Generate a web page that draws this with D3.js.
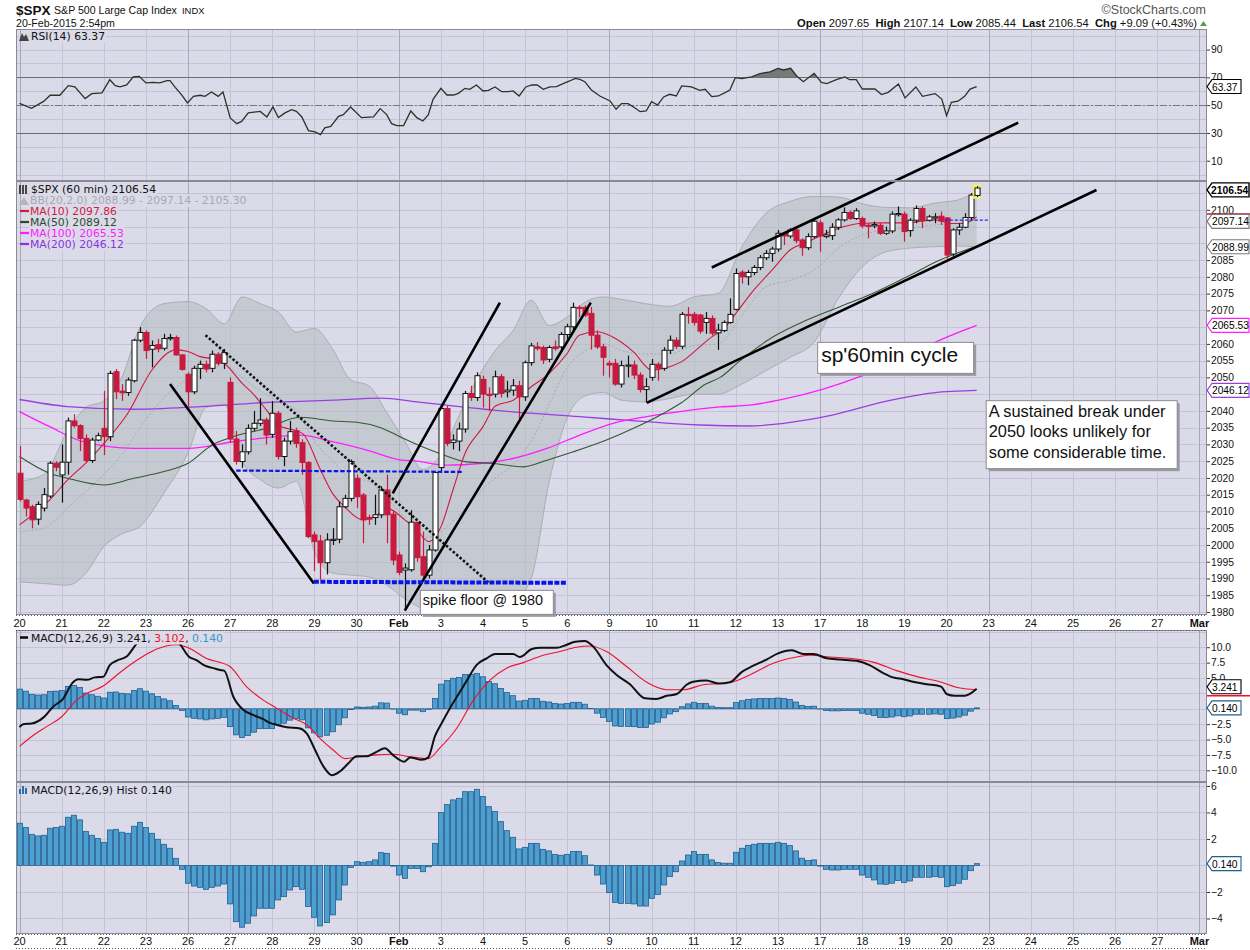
<!DOCTYPE html>
<html>
<head>
<meta charset="utf-8">
<script src="https://cdn.jsdelivr.net/npm/d3@7.9.0/dist/d3.min.js"></script>
<style>
  body { margin: 0; background: #fff; }
  svg { display: block; font-family: "Liberation Sans", Arial, sans-serif; }
  .lg { font-family: "DejaVu Sans", Verdana, sans-serif; font-size: 10.8px; white-space: pre; }
  .tick text { font-family: "Liberation Sans", Arial, sans-serif; font-size: 10.3px; fill: #111; }
</style>
</head>
<body>
<svg id="chart" width="1250" height="950"></svg>
<script>
// ---- data ----
const dayLabels = ['20','21','22','23','26','27','28','29','30','Feb','3','4','5','6','9','10','11','12','13','17','18','19','20','23','24','25','26','27','Mar'];
const weekStarts = [0, 4, 9, 14, 19, 23, 28];

// hourly bars, 7 per trading day, Jan 20 .. Feb 20 2:54pm
const opens = [
  2021.4,2013.4,2011.4,2007.7,2011,2014.6,2024.4,2020.9,2024.7,2037,
  2035.6,2031.8,2025.2,2031.3,2034.8,2032.3,2051.7,2045.9,2045.5,2049,
  2061.1,2063.4,2058.4,2059.8,2058.7,2061.6,2061.9,2056.7,2050.9,2045.7,
  2052.7,2053.9,2052.7,2056.9,2054.2,2048.5,2031.6,2024.9,2027.8,2034.8,
  2036.3,2037.3,2033,2039.3,2026.4,2031,2034.1,2030.5,2024.6,2003,
  2001.2,1994.7,2001.5,2001.7,2011.4,2013.9,2019.9,2014.9,2008.2,2008.2,
  2009,2016.4,2009.2,1997,1992.5,1992.6,2006.7,1996.5,1991,1998.5,
  2023.1,2040.7,2030.6,2031,2034.6,2045.2,2044,2049.4,2045,2045,
  2050.2,2045.7,2046.2,2047.5,2044.2,2054.4,2059.1,2058.9,2055.4,2059.1,
  2059.1,2062.8,2065.1,2070.9,2070.9,2069.1,2062.6,2059.1,2054.2,2054.2,
  2048,2053.5,2053.7,2050.7,2046.4,2050,2053.9,2052.7,2058.1,2061.1,
  2059.3,2068.8,2068.8,2068.6,2066.4,2067.6,2063.3,2064,2066.4,2070.3,
  2081.4,2080,2081.3,2082.8,2085.7,2087,2088.3,2093,2092.2,2094,
  2091,2088.7,2092,2096.1,2092,2092.3,2094.8,2097,2099.2,2097.4,
  2097.4,2095.4,2095.2,2095.4,2093,2093.7,2098.7,2098.7,2093.8,2096.9,
  2100.4,2096.9,2097.7,2098.1,2097.6,2086.8,2094,2094.8,2097.7,2104.3
];
const highs = [
  2029.5,2013.8,2012,2013,2017,2025,2025,2030,2038,2039,
  2036,2033,2032,2033.5,2046,2052,2052.5,2048,2050,2061.5,
  2065,2064,2061,2061.5,2063,2063,2062.5,2057,2051.5,2053.5,
  2055,2055,2058,2057.5,2058.5,2050,2034,2030,2036,2040,
  2043.8,2038,2042.9,2040,2032,2037,2035,2031.5,2025,2004,
  2003,2003.5,2005,2013,2015,2025.5,2021,2015.5,2009,2015,
  2017.5,2021,2010,1998,1994.5,2010.4,2007,2004,2000,2022,
  2041.5,2041.5,2033,2036.5,2046,2047.5,2051.5,2050.5,2047,2052,
  2051,2049,2049.5,2049,2055,2060.3,2060.5,2059.5,2059.5,2061,
  2063.5,2066,2072.3,2071.5,2071.5,2071,2064,2060,2055,2055.5,
  2055,2056.5,2055,2051.5,2049.8,2055.5,2054.5,2059,2062.5,2062,
  2069.5,2071,2069.5,2069,2069.5,2068.5,2066,2067,2073.6,2082.5,
  2082,2082,2083.5,2086.5,2088,2089,2094,2093.5,2094.5,2094.5,
  2091.5,2093,2097.5,2097,2094,2096,2097.5,2100.7,2099.8,2100.5,
  2098,2096,2096.5,2096,2095,2099.5,2101,2099.5,2097.5,2101.3,
  2101,2098.5,2099,2099.5,2097.8,2094.5,2096,2099,2105,2107.1
];
const lows = [
  2013,2008.5,2005,2006,2010,2014,2022,2012.6,2021,2035,
  2028,2024.5,2024.5,2031,2026.8,2031,2043.5,2043,2044.5,2048.5,
  2060.5,2055.5,2053,2057.5,2058,2061,2056.5,2052,2041.3,2045,
  2049.5,2051.5,2051.5,2053.5,2052.5,2030.5,2024,2023,2027,2034,
  2035.5,2030,2032,2025.5,2023.5,2030,2029,2021,2002,1992.2,
  1989.6,1991.2,2000,2000.5,2011,2013,2011,2000.5,2006,2006,
  2008,2000.5,1994,1991,1980.6,1992,1995,1990,1990,1998,
  2022,2029.5,2028.5,2028,2033.5,2043,2043,2041,2040,2044,
  2044,2044,2044.5,2037.5,2043,2053.5,2058,2054,2054.5,2058,
  2058,2061.5,2064,2068,2068,2058.3,2058.5,2050.5,2050,2047.5,
  2047,2050,2049.5,2045.5,2042.5,2049,2049,2052,2057,2058.5,
  2058.5,2066,2065.5,2063,2063,2062.5,2058.2,2063.5,2066,2070,
  2078,2077.5,2080.5,2082,2085,2084.5,2087.5,2089.5,2091.5,2090,
  2086.3,2088,2091.5,2087.5,2091.5,2091,2094,2096.5,2097,2097,
  2094.5,2091.5,2094.5,2092.5,2092.5,2093,2098,2090.5,2092,2096,
  2094.5,2096.5,2096,2095.5,2085.4,2085.5,2092.5,2094.5,2097,2103.8
];
const closes = [
  2013.6,2011.0,2007.5,2012.1,2015,2024.4,2023.2,2024.7,2037,2035.6,
  2031.8,2025.2,2031.3,2032.6,2032.3,2051.2,2045.7,2045.4,2049.2,2061.1,
  2063.4,2058,2059.5,2058.5,2061.6,2061.9,2056.7,2052.4,2045.7,2052.7,
  2053.9,2052.5,2056.9,2054.2,2057.4,2031.6,2024.9,2027.8,2034.8,2036.3,
  2037.3,2032.8,2039.3,2026.4,2031,2033.8,2030.3,2024.6,2002.5,2001,
  1994.7,2001.5,2001.7,2011.4,2013.9,2024.9,2014.4,2007.5,2007.7,2009,
  2016.4,2009,1995.5,1991.8,1993.1,2006.8,1996.2,1991.0,1998.5,2021.6,
  2040.7,2030.3,2031.3,2034.6,2045.2,2044,2050.5,2045,2044.6,2050.2,
  2045.2,2046.2,2047.5,2044.2,2054.4,2059.4,2058.6,2055.2,2058.9,2058.6,
  2062.8,2065.1,2070.9,2070.6,2068.6,2062.6,2059.1,2056,2053.7,2048,
  2053.5,2053.7,2050.7,2046.4,2047.2,2053.9,2052.7,2058.1,2061.1,2059.3,
  2068.8,2068.5,2066.4,2063.8,2067.6,2063.2,2064.1,2066.4,2068.8,2081,
  2080,2081.3,2082.8,2085.7,2087,2088.3,2093,2092.2,2094,2090.8,
  2088.7,2092,2096.6,2092.2,2092.5,2094.8,2097,2099.2,2097.4,2099.7,
  2095.2,2095.2,2095.6,2093,2093.7,2098.7,2098.9,2093.5,2096.9,2100.4,
  2096.7,2097.9,2097.9,2096.7,2086.5,2094,2094.8,2097.7,2104.4,2106.5
];

// Bollinger band (20,2) read at these bars
const bbIdx = [0,4,8,11,14,17,20,24,28,31,34,37,40,43,46,49,52,55,58,61,64,67,70,73,76,79,82,85,88,91,94,97,100,104,108,112,116,120,124,128,132,136,140,144,148,152,156,159];
const bbUpper = [2019,2021,2034,2041,2043,2050,2065,2072,2072.6,2070.5,2066,2074,2072,2069.5,2063.5,2064.6,2058.5,2049.3,2047.5,2039.5,2031,2022.5,2027,2038.5,2049.5,2058,2064,2073,2065.5,2068,2072.5,2074,2073.3,2072,2071.2,2074,2075,2089,2099,2102.5,2104,2103.8,2101.8,2100.7,2100.6,2102,2103,2105.3];
const bbLower = [1989,1988.5,1988,1991.5,1999.5,2003.3,2005.5,2015.5,2027.5,2041,2042,2025,2019.5,2017,2019,1998,1991.6,1991,1990.5,1988,1984,1981,1980,1980,1980.5,1981,1983,1990,2019,2038,2044.5,2045.5,2043.2,2042.7,2043.7,2045,2045,2048,2052,2056,2060.5,2073.5,2083,2087.5,2088.6,2089,2089.2,2089];
const bbMid = [2004,2005,2011,2016,2021,2027,2035,2044,2050,2056,2054,2050,2046,2043,2040,2031,2025,2020,2019,2014,2008,2002,2004,2009,2015,2020,2024,2031,2042,2053,2058,2060,2058,2057,2057,2059.5,2060,2068.5,2077,2079,2082,2088.5,2092.5,2094,2094.6,2095.5,2096,2097.1];

// moving averages as [bar, value]
const ma10 = [[0,2006],[5,2013.4],[8,2019.4],[11,2024.4],[15,2032.3],[18,2039.3],[22,2052.2],[26,2058.2],[28,2057.7],[30,2056.2],[33,2055.2],[34,2054.2],[37,2048.2],[39,2044.7],[41,2040.3],[43,2035.8],[47,2033.3],[50,2022.4],[52,2015.4],[54,2011.4],[57,2007.5],[59,2008.5],[61,2011],[64,2007.5],[66,2004.4],[68,2001],[70,2005.4],[72,2016.4],[74,2027.3],[77,2035.3],[79,2041.4],[82,2043.2],[85,2047.2],[88,2051.2],[91,2057.2],[93,2062.6],[96,2063.6],[99,2061.6],[102,2057.6],[105,2052.2],[108,2053.2],[110,2054.7],[113,2059.1],[115,2062.1],[117,2064.5],[119,2069.1],[122,2076.1],[125,2082],[128,2088],[131,2090.5],[134,2093],[137,2095],[140,2096],[143,2096.1],[147,2096.1],[152,2097],[155,2095.9],[157,2096],[159,2097.9]];
const ma50 = [[0,2026.4],[5,2021.4],[8,2019.9],[14,2017.9],[19,2019.9],[24,2021.9],[28,2024.4],[32,2029.8],[35.5,2032.3],[41,2034.8],[46.6,2038.1],[52,2037],[56,2036.6],[60,2035],[63.2,2032.3],[66.5,2029.6],[69.8,2027.3],[74.3,2024.8],[78.7,2024.3],[83.7,2023.3],[87.6,2025.3],[92,2027.8],[97.5,2031.3],[102,2034.8],[107,2039.3],[110,2042.5],[114,2048],[116.4,2050],[119.7,2055],[125.2,2062.1],[130.8,2067.1],[136.3,2071.1],[141.8,2075.1],[147.4,2080],[152.9,2085],[159,2089.1]];
const ma100 = [[0,2039.8],[5,2035.3],[10.6,2030.8],[19,2028.8],[28,2028.8],[35.5,2030.8],[42.7,2032.3],[46.6,2032.8],[52,2030.8],[57.7,2028.3],[63.2,2025.4],[66,2025],[71,2023.8],[76.5,2024.3],[82,2025.8],[87.6,2028.8],[93.1,2032.8],[98.6,2036.3],[104.2,2038.3],[109.7,2039.8],[116.4,2041.2],[121.3,2041.7],[126.9,2043.5],[133.5,2046.5],[139.6,2050.2],[147.4,2056.2],[152.9,2061.1],[159,2065.5]];
const ma200 = [[0,2043.4],[8,2041.3],[19,2040.5],[30,2041.3],[41,2042.5],[52,2043.2],[60,2043.8],[66,2042.7],[71,2041.7],[82,2039.7],[93,2038.3],[104,2036.8],[113,2035.8],[121.3,2035.5],[126.9,2036.3],[135.2,2038.8],[143.5,2042.7],[151.8,2045.4],[159,2046.1]];

// RSI(14) as [bar, value]
const rsi = [[0,51.3],[2,47.7],[4,52.7],[5.1,57.1],[6.7,57.1],[8.1,64],[9.2,63.1],[10.9,54.7],[12,58.3],[13.7,58.8],[15,68.3],[15.9,64],[16.7,63.1],[17.8,64.5],[18.9,70.3],[19.9,70.7],[21,66],[22.2,66.4],[23.3,66],[24.5,67.6],[25,67.6],[25.8,63.1],[26.9,57.6],[27.9,51.6],[28.9,56.3],[30,57.1],[30.8,56.3],[31.9,59.5],[33,56.3],[33.8,59.5],[35,40.8],[36.1,36.7],[36.9,38.3],[38,44.4],[40,45.5],[41.1,41.5],[42.1,48.7],[43,41],[44.1,44.4],[45.2,46.8],[46,45.5],[46.9,41.5],[48,31.7],[49.1,30.7],[50,28.8],[50.7,33.6],[51.7,34.7],[53,41.9],[53.8,43.2],[55,48.7],[56.8,41],[58.8,41.5],[59.9,47.5],[61,43.2],[61.8,36.7],[62.7,35.3],[63.8,35.3],[65,45.8],[66,41],[67,38.6],[67.9,42.9],[68.7,54.2],[70,62.1],[71,57.3],[72.1,57.3],[72.9,58.5],[74,62.1],[74.8,61.4],[75.9,64.5],[77,60.2],[77.9,60.7],[79,63.1],[80.1,59.7],[81.2,59.7],[82,60.2],[83,56.6],[84.1,63.1],[85.1,64.5],[86,64.5],[87,61.4],[88.1,63.1],[89.2,63.3],[90.3,65.5],[91.4,67.4],[92.3,69.3],[93.1,68.6],[93.9,66.9],[95,60.9],[96.4,56.6],[98.1,53],[99.1,47],[100,51.1],[101.1,51.1],[102,48.7],[103.1,45.3],[104.1,45.8],[105,52.5],[106,50.1],[107,55.9],[108,57.8],[109.1,56.6],[110,63.8],[111.6,63.1],[113,60.7],[113.9,61.4],[115,56.1],[116.1,56.6],[117.2,59],[118,60.9],[118.9,69.8],[120,69.1],[121.6,70.3],[123,72.7],[124.7,73.9],[126,76.5],[126.9,75.3],[128.1,76.5],[129.1,71],[130.2,66.9],[132,72.9],[133.2,66.4],[134.1,65.5],[135.7,68.3],[137.1,70.3],[137.9,68.3],[139,68.3],[140,61.6],[142.1,61.6],[143.2,57.6],[144.3,59.2],[146,65.2],[147.1,55.2],[148.9,63.1],[150,56.3],[152.1,58.3],[153.2,54.4],[154,42.4],[154.8,52],[155.9,52.8],[157,56.3],[157.9,61.6],[159,63.37]];

// MACD(12,26,9) line and signal as [bar, value]
const macd = [[0,-3.0],[0.6,-2.5],[2,-2.4],[4,-1.4],[5.6,0.35],[7.3,1.7],[8.7,4.1],[9.8,4.8],[11.2,4.7],[12.5,5.1],[13.9,5.2],[15,7.1],[16.1,7.8],[17.8,8.5],[19.7,10.8],[21.1,11.5],[23.3,11.8],[25,11.5],[26.4,10.8],[28.1,8.5],[29.4,7.9],[30.8,7],[32.2,6.6],[33.3,6.3],[34,6.2],[35.5,2],[37.2,-0.2],[38.8,-1],[40.5,-1.7],[41.6,-2.3],[42.7,-2.6],[44.4,-3],[46.6,-3.2],[47.7,-4],[49.1,-6.7],[50.5,-9.4],[51.9,-10.8],[53.2,-10.2],[54.6,-8.9],[56,-7.7],[57.7,-7.7],[59.3,-7],[60.7,-6.4],[62,-7.5],[63.9,-8.6],[64.9,-7.9],[66.8,-8.3],[67.9,-7.9],[69,-4.5],[70.1,-2.4],[71.5,0.1],[73.2,2.8],[74.5,4.9],[75.9,7.1],[77.6,8.2],[79,8.9],[82,8.9],[83.1,8.4],[85.1,9.7],[86.5,9.9],[89.2,9.9],[90.9,10.4],[92.3,10.9],[93.9,11],[95.3,10.1],[97.5,7.1],[99.2,5.5],[101.4,4],[103.9,1.7],[105.8,1.6],[107.5,2.1],[109.2,2.4],[110.8,3.9],[111.9,4.4],[114.1,4.6],[116.1,4.1],[118,4.3],[120,6.0],[121.9,7],[124.1,8.0],[126,9],[128.3,9.5],[130.2,8.9],[131.9,8.9],[134.1,8.2],[136.3,8.0],[139,7.8],[141.2,7.1],[143.5,5.8],[145.1,5.1],[146.8,4.8],[148.4,4.4],[150.7,4],[153.1,3.6],[154,2.4],[155.4,2.1],[157,2.1],[159,3.24]];
const signal = [[0,-6.1],[2.3,-4.3],[4.5,-2.9],[7,-1.3],[9.5,1.4],[11.2,2.5],[13.9,3.7],[16.7,5.9],[20,8.2],[22.8,9.7],[26.1,10.4],[28.3,9.8],[31,8.2],[34.9,6.9],[37.7,3.6],[40.5,1.4],[42.7,0.1],[45.5,-1.55],[47.7,-2.6],[49.9,-4.8],[52.1,-6.7],[54.1,-8.1],[56.5,-7.8],[59.3,-7.5],[62,-7.4],[64.9,-7.8],[67.9,-8.1],[69.8,-6.4],[72.6,-3.2],[75.4,1.4],[78.2,4.7],[80.9,6.6],[83.7,7.5],[87,8.7],[89.8,9.3],[92.5,10],[94.8,10.2],[97.5,9.3],[100.8,6.9],[104.2,4.3],[107.5,3.1],[110.3,3.1],[113.6,3.9],[116.4,4.1],[118.6,4.4],[121.3,5.5],[125.2,7.4],[128,8.2],[131.3,8.7],[134.6,8.4],[139.6,8.0],[142.1,7.5],[145.7,6.2],[149.6,5.1],[152.9,4.4],[155.6,3.5],[159,3.1]];

// MACD histogram, one per bar
const hist = [
  3.19,2.86,2.35,2.23,2.28,2.81,2.86,
  2.96,3.64,3.79,3.44,2.56,2.28,2.03,
  1.75,2.68,2.73,2.51,2.43,2.96,3.26,
  2.86,2.43,1.98,1.60,1.30,0.54,-0.29,
  -1.34,-1.55,-1.65,-1.80,-1.65,-1.55,-1.40,
  -2.90,-4.24,-4.66,-4.36,-3.81,-3.23,-3.23,
  -3.23,-2.60,-2.35,-1.85,-1.60,-1.80,-3.10,
  -3.91,-4.56,-4.31,-3.73,-2.60,-1.47,-0.14,
  0.29,0.24,0.29,0.42,0.97,0.92,-0.05,
  -0.72,-0.97,-0.22,-0.22,-0.47,-0.10,1.67,
  4.0,4.6,4.95,5.07,5.57,5.57,5.75,
  5.2,4.44,4.07,3.31,2.63,2.13,1.25,
  1.37,1.67,1.67,1.22,1.10,0.84,0.77,
  0.84,1.05,1.05,0.74,0.04,-0.72,-1.40,
  -2.05,-2.80,-2.86,-2.86,-2.90,-3.06,-3.06,
  -2.48,-2.18,-1.47,-0.84,-0.47,0.34,0.79,
  1.05,0.84,0.84,0.42,0.22,0.17,0.17,
  1.0,1.3,1.52,1.6,1.67,1.67,1.67,
  1.75,1.67,1.5,1.1,0.55,0.37,0.42,
  -0.04,-0.29,-0.34,-0.34,-0.29,-0.29,-0.29,
  -0.72,-0.89,-1.09,-1.40,-1.42,-1.34,-1.14,
  -1.29,-1.17,-0.89,-0.89,-0.89,-0.84,-0.89,
  -1.60,-1.52,-1.34,-1.04,-0.39,0.14
];

// axis tick values (labels hidden under value tags are left out)
const rsiTicks = [10, 30, 50, 70, 90];
const priceTicks = [1980,1985,1990,1995,2000,2005,2010,2015,2020,2025,2030,2035,2040,2050,2055,2060,2070,2075,2080,2085,2100];
const macdTicks = [-10, -7.5, -5, -2.5, 5, 7.5, 10];
const histTicks = [-4, -2, 2, 4, 6];

// hand-drawn annotations, [bar, price]
const solidLines = [
  [[25.0, 2048.0], [48.9, 1988.5]],
  [[62.0, 2015.4], [79.8, 2072.3]],
  [[64.0, 1980.4], [94.9, 2072.3]],
  [[115.0, 2082.8], [165.9, 2126.0]],
  [[104.2, 2042.4], [178.9, 2105.9]]
];
const dottedLine = [[30.9, 2062.6], [77.9, 1988.8]];
const blueDash = [[36.0, 2022.2], [73.5, 2021.8]];
const blueFloor = [[48.9, 1989.0], [90.9, 1988.7]];
const blueShort = [[153.7, 2096.9], [160.9, 2096.9]];

// ---- layout ----
const plotL = 16, plotR = 1207;
const rsiTop = 29, priceTop = 181, priceBot = 615, macdTop = 630, histTop = 782, histBot = 934;
const bg = '#dadae8', gridC = '#c4c4d6', gridDark = '#a9a9bb', frame = '#8a8a96';

const x = d3.scaleLinear().domain([0, 196]).range([19.5, 19.5 + 196 * 6.02]);
const yRsi = d3.scaleLinear().domain([-4.6, 104.8]).range([priceTop, rsiTop]);
const yPrice = d3.scaleLinear().domain([1979.1, 2108.6]).range([priceBot, priceTop]);
const yMacd = d3.scaleLinear().domain([-11.9, 12.8]).range([histTop, macdTop]);
const yHist = d3.scaleLinear().domain([-5.17, 6.3]).range([histBot, histTop]);

const svg = d3.select('#chart');
const defs = svg.append('defs');
function clip(id, top, bot) {
  defs.append('clipPath').attr('id', id).append('rect')
    .attr('x', plotL).attr('y', top).attr('width', plotR - plotL).attr('height', bot - top);
  return `url(#${id})`;
}

const panels = [
  { top: rsiTop, bot: priceTop, y: yRsi, grid: d3.range(0, 101, 10) },
  { top: priceTop, bot: priceBot, y: yPrice, grid: d3.range(1980, 2106, 5) },
  { top: macdTop, bot: histTop, y: yMacd, grid: d3.range(-10, 12.6, 2.5) },
  { top: histTop, bot: histBot, y: yHist, grid: d3.range(-4, 6.1, 2) }
];

// backgrounds and gridlines
panels.forEach(p => {
  const g = svg.append('g');
  g.append('rect').attr('x', plotL).attr('y', p.top).attr('width', plotR - plotL)
    .attr('height', p.bot - p.top).attr('fill', bg);
  g.selectAll('.h').data(p.grid).join('line')
    .attr('x1', plotL).attr('x2', plotR)
    .attr('y1', d => Math.round(p.y(d)) + 0.5).attr('y2', d => Math.round(p.y(d)) + 0.5)
    .attr('stroke', gridC);
  g.selectAll('.v').data(d3.range(dayLabels.length)).join('line')
    .attr('x1', d => Math.round(x(d * 7)) + 0.5).attr('x2', d => Math.round(x(d * 7)) + 0.5)
    .attr('y1', p.top).attr('y2', p.bot)
    .attr('stroke', d => weekStarts.includes(d) ? gridDark : gridC);
});

// RSI reference lines
svg.append('g').selectAll('line').data([70, 30]).join('line')
  .attr('x1', plotL).attr('x2', plotR)
  .attr('y1', d => Math.round(yRsi(d)) + 0.5).attr('y2', d => Math.round(yRsi(d)) + 0.5)
  .attr('stroke', '#6c6c70').attr('stroke-width', 1.2);
svg.append('line').attr('x1', plotL).attr('x2', plotR)
  .attr('y1', Math.round(yRsi(50)) + 0.5).attr('y2', Math.round(yRsi(50)) + 0.5)
  .attr('stroke', '#77777c').attr('stroke-dasharray', '7,2,2,2');

// ---- RSI ----
const rsiLine = d3.line().x(d => x(d[0])).y(d => yRsi(d[1]));
const obClip = clip('ob', rsiTop, yRsi(70));
const osClip = clip('os', yRsi(30), priceTop);
svg.append('path').datum(rsi).attr('clip-path', obClip)
  .attr('d', d3.area().x(d => x(d[0])).y0(yRsi(70)).y1(d => yRsi(d[1]))).attr('fill', '#77797a');
svg.append('path').datum(rsi).attr('clip-path', osClip)
  .attr('d', d3.area().x(d => x(d[0])).y0(yRsi(30)).y1(d => yRsi(d[1]))).attr('fill', '#77797a');
svg.append('path').datum(rsi).attr('clip-path', clip('rsiC', rsiTop, priceTop))
  .attr('d', rsiLine).attr('fill', 'none').attr('stroke', '#263626').attr('stroke-width', 1.3);

// ---- price panel ----
const priceClip = clip('priceC', priceTop, priceBot);
const pg = svg.append('g').attr('clip-path', priceClip);
const bbRows = bbIdx.map((b, k) => ({ b, u: bbUpper[k], l: bbLower[k], m: bbMid[k] }));
pg.append('path').datum(bbRows)
  .attr('d', d3.area().curve(d3.curveMonotoneX).x(d => x(d.b)).y0(d => yPrice(d.l)).y1(d => yPrice(d.u)))
  .attr('fill', '#b5bdbf').attr('fill-opacity', 0.55);
['u', 'l'].forEach(k => pg.append('path').datum(bbRows)
  .attr('d', d3.line().curve(d3.curveMonotoneX).x(d => x(d.b)).y(d => yPrice(d[k])))
  .attr('fill', 'none').attr('stroke', '#a9aeb2').attr('stroke-width', 1));
pg.append('path').datum(bbRows)
  .attr('d', d3.line().curve(d3.curveMonotoneX).x(d => x(d.b)).y(d => yPrice(d.m)))
  .attr('fill', 'none').attr('stroke', '#a8a8b0').attr('stroke-dasharray', '2,2');

const maLine = d3.line().curve(d3.curveMonotoneX).x(d => x(d[0])).y(d => yPrice(d[1]));
[[ma200, '#9b3ee0', 1.3], [ma100, '#ff1cff', 1.3], [ma50, '#2f5a2f', 1.1], [ma10, '#d01a40', 1.1]]
  .forEach(([data, c, w]) => pg.append('path').datum(data).attr('d', maLine)
    .attr('fill', 'none').attr('stroke', c).attr('stroke-width', w));

// candles
const bars = closes.map((c, i) => ({ i, o: opens[i], h: highs[i], l: lows[i], c }));
const up = d => d.c >= d.o;
const cg = pg.append('g');
cg.selectAll('line').data(bars).join('line')
  .attr('x1', d => Math.round(x(d.i)) + 0.5).attr('x2', d => Math.round(x(d.i)) + 0.5)
  .attr('y1', d => yPrice(d.h)).attr('y2', d => yPrice(d.l))
  .attr('stroke', d => up(d) ? '#111' : '#c8193f').attr('stroke-width', 1.2);
cg.selectAll('rect').data(bars).join('rect')
  .attr('x', d => Math.round(x(d.i)) - 2).attr('width', 5)
  .attr('y', d => yPrice(Math.max(d.o, d.c)))
  .attr('height', d => Math.max(1.2, Math.abs(yPrice(d.o) - yPrice(d.c))))
  .attr('fill', d => up(d) ? '#fff' : '#c8193f')
  .attr('stroke', d => up(d) ? '#111' : '#c8193f').attr('stroke-width', 1);

// yellow highlight on the last candle
const last = bars[bars.length - 1];
svg.append('rect').attr('x', x(last.i) - 4).attr('y', yPrice(last.h) - 2)
  .attr('width', 8).attr('height', yPrice(last.l) - yPrice(last.h) + 4)
  .attr('fill', '#f5f060').attr('fill-opacity', 0.85);
svg.append('line').attr('x1', Math.round(x(last.i)) + 0.5).attr('x2', Math.round(x(last.i)) + 0.5)
  .attr('y1', yPrice(last.h)).attr('y2', yPrice(last.l)).attr('stroke', '#111');
svg.append('rect').attr('x', Math.round(x(last.i)) - 2).attr('width', 5)
  .attr('y', yPrice(last.c)).attr('height', yPrice(last.o) - yPrice(last.c))
  .attr('fill', '#fff').attr('stroke', '#111');

// annotation lines
const segLine = d3.line().x(d => x(d[0])).y(d => yPrice(d[1]));
solidLines.forEach(s => svg.append('path').datum(s).attr('d', segLine)
  .attr('stroke', '#000').attr('stroke-width', 2.6).attr('fill', 'none'));
svg.append('path').datum(dottedLine).attr('d', segLine)
  .attr('stroke', '#111').attr('stroke-width', 2.6).attr('stroke-dasharray', '2.5,2').attr('fill', 'none');
svg.append('path').datum(blueDash).attr('d', segLine)
  .attr('stroke', '#0a14e6').attr('stroke-width', 2.2).attr('stroke-dasharray', '4.5,2').attr('fill', 'none');
svg.append('path').datum(blueFloor).attr('d', segLine)
  .attr('stroke', '#0a14e6').attr('stroke-width', 4).attr('stroke-dasharray', '5,1.5').attr('fill', 'none');
svg.append('path').datum(blueShort).attr('d', segLine)
  .attr('stroke', '#1a2cf0').attr('stroke-width', 1.3).attr('stroke-dasharray', '3,2').attr('fill', 'none');

// ---- MACD panel ----
const macdClip = clip('macdC', macdTop, histTop);
const mg = svg.append('g').attr('clip-path', macdClip);
const histBars = hist.map((h, i) => ({ i, h }));
mg.selectAll('rect').data(histBars).join('rect')
  .attr('x', d => Math.round(x(d.i)) - 2.5).attr('width', 5)
  .attr('y', d => yMacd(Math.max(0, d.h))).attr('height', d => Math.abs(yMacd(d.h) - yMacd(0)))
  .attr('fill', '#4c9fd0').attr('stroke', '#215f8d').attr('stroke-width', 0.8);
const mLine = d3.line().curve(d3.curveMonotoneX).x(d => x(d[0])).y(d => yMacd(d[1]));
mg.append('path').datum(signal).attr('d', mLine).attr('fill', 'none').attr('stroke', '#f0102a').attr('stroke-width', 1.1);
mg.append('path').datum(macd).attr('d', mLine).attr('fill', 'none').attr('stroke', '#111').attr('stroke-width', 2);

// ---- histogram panel ----
const hg = svg.append('g').attr('clip-path', clip('histC', histTop, histBot));
hg.selectAll('rect').data(histBars).join('rect')
  .attr('x', d => Math.round(x(d.i)) - 2.5).attr('width', 5)
  .attr('y', d => yHist(Math.max(0, d.h))).attr('height', d => Math.abs(yHist(d.h) - yHist(0)))
  .attr('fill', '#4c9fd0').attr('stroke', '#215f8d').attr('stroke-width', 0.8);

// ---- frames ----
panels.forEach(p => {
  svg.append('rect').attr('x', plotL + 0.5).attr('y', p.top + 0.5)
    .attr('width', plotR - plotL - 1).attr('height', p.bot - p.top - 1)
    .attr('fill', 'none').attr('stroke', frame);
});
[priceBot, macdTop, histBot, 948].forEach(yy => svg.append('line')
  .attr('x1', plotL).attr('x2', plotR).attr('y1', yy + 0.5).attr('y2', yy + 0.5)
  .attr('stroke', '#555').attr('stroke-dasharray', '1,2'));

// ---- right axes ----
function rightAxis(scale, values, fmt) {
  const g = svg.append('g').attr('transform', `translate(${plotR},0)`)
    .call(d3.axisRight(scale).tickValues(values).tickSize(3).tickPadding(1).tickFormat(fmt));
  g.select('.domain').remove();
  g.selectAll('line').attr('stroke', '#333');
}
rightAxis(yRsi, rsiTicks, d3.format('d'));
rightAxis(yPrice, priceTicks, d3.format('d'));
rightAxis(yMacd, macdTicks, d3.format('.1f'));
rightAxis(yHist, histTicks, d3.format('d'));

// value tags on the right axis
function stub(yy, color) {
  svg.append('line').attr('x1', plotR).attr('x2', 1250).attr('y1', yy).attr('y2', yy)
    .attr('stroke', color).attr('stroke-width', 1.5);
}
function tag(yy, text, color, bold, w) {
  const g = svg.append('g');
  g.append('path')
    .attr('d', `M${plotR},${yy} L${plotR + 5},${yy - 7} L${plotR + w},${yy - 7} L${plotR + w},${yy + 7} L${plotR + 5},${yy + 7} Z`)
    .attr('fill', '#fff').attr('stroke', color).attr('stroke-width', bold ? 1.4 : 1.1);
  g.append('text').attr('x', plotR + (bold ? 4 : 5)).attr('y', yy + 4)
    .attr('font-size', bold ? 10.3 : 10.2).attr('font-weight', bold ? 'bold' : null)
    .attr('fill', '#000').text(text);
}
tag(yRsi(63.37), '63.37', '#000', false, 34);
stub(yPrice(2097.86) - 3, '#e0102a');
tag(yPrice(2097.14) + 2, '2097.14', '#7a7a7a', false, 42);
tag(yPrice(2088.99), '2088.99', '#7a7a7a', false, 42);
tag(yPrice(2065.53), '2065.53', '#ff1cff', false, 42);
tag(yPrice(2046.12), '2046.12', '#9b3ee0', false, 42);
tag(yPrice(2106.54) + 2, '2106.54', '#000', true, 42);
stub(yMacd(3.102) + 6, '#f0102a');
tag(yMacd(3.241) - 2, '3.241', '#000', false, 34);
tag(yMacd(0.14), '0.140', '#215f8d', false, 34);
tag(yHist(0.14), '0.140', '#215f8d', false, 34);

// ---- x axis labels ----
function xLabels(base) {
  svg.append('g').selectAll('text').data(dayLabels).join('text')
    .attr('x', (d, i) => x(i * 7)).attr('y', base)
    .attr('text-anchor', 'middle').attr('font-size', 11)
    .attr('font-weight', d => (d === 'Feb' || d === 'Mar') ? 'bold' : null)
    .attr('fill', '#111').text(d => d);
}
xLabels(627);
xLabels(945);

// ---- legends ----
function legendLine(g, xx, base, parts) {
  const t = g.append('text').attr('class', 'lg').attr('x', xx).attr('y', base);
  parts.forEach(([s, c]) => t.append('tspan').attr('fill', c).text(s));
  const bb = t.node().getBBox();
  g.insert('rect', 'text').attr('x', bb.x - 1).attr('y', bb.y).attr('width', bb.width + 2)
    .attr('height', bb.height).attr('fill', bg);
  return t;
}
const lgG = svg.append('g');
// RSI
legendLine(lgG, 31, 40, [['RSI(14) 63.37', '#111']]);
lgG.append('path').attr('d', 'M19,41 L22,33 L24,37 L26,34 L29,41 Z').attr('fill', '#444');
// price
legendLine(lgG, 31, 193, [['$SPX (60 min) 2106.54', '#111']]);
lgG.append('g').selectAll('line').data([20, 23, 26]).join('line')
  .attr('x1', d => d).attr('x2', d => d).attr('y1', 185).attr('y2', 194).attr('stroke', '#222').attr('stroke-width', 1.6);
legendLine(lgG, 30, 204, [['BB(20,2.0) 2088.99 - 2097.14 - 2105.30', '#a9a9b0']]);
lgG.append('path').attr('d', 'M19,205 L24,197 L29,205 Z').attr('fill', '#b4b4b8');
const maLegend = [['MA(10) 2097.86', '#d01a40'], ['MA(50) 2089.12', '#2f4a2f'], ['MA(100) 2065.53', '#ff1cff'], ['MA(200) 2046.12', '#8a33dd']];
maLegend.forEach(([s, c], k) => {
  const base = 215 + k * 11;
  legendLine(lgG, 30, base, [[s, c]]);
  lgG.append('line').attr('x1', 20).attr('x2', 29).attr('y1', base - 4).attr('y2', base - 4)
    .attr('stroke', c).attr('stroke-width', 2.2);
});
// MACD
legendLine(lgG, 31, 641.5, [['MACD(12,26,9) 3.241', '#111'], [', ', '#111'], ['3.102', '#f0102a'], [', ', '#111'], ['0.140', '#3399cc']]);
lgG.append('line').attr('x1', 20).attr('x2', 28).attr('y1', 637.5).attr('y2', 637.5).attr('stroke', '#000').attr('stroke-width', 2.4);
// histogram
legendLine(lgG, 31, 794, [['MACD(12,26,9) Hist 0.140', '#111']]);
lgG.append('g').selectAll('rect').data([[19, 5], [22, 8], [25, 6]]).join('rect')
  .attr('x', d => d[0]).attr('y', d => 794 - d[1]).attr('width', 2).attr('height', d => d[1]).attr('fill', '#2a6fa8');

// ---- text boxes ----
function noteBox(bar, price, lines, size, padX, lineH, w, h) {
  const x0 = x(bar), y0 = yPrice(price);
  const g = svg.append('g');
  g.append('rect').attr('x', x0 + 3).attr('y', y0 + 3).attr('width', w).attr('height', h).attr('fill', '#9a9aa4');
  g.append('rect').attr('x', x0 + 0.5).attr('y', y0 + 0.5).attr('width', w).attr('height', h)
    .attr('fill', '#fff').attr('stroke', '#8a8a90');
  lines.forEach((s, k) => g.append('text').attr('x', x0 + padX).attr('y', y0 + size * 0.95 + k * lineH + (h - lines.length * lineH) / 2 - size * 0.12)
    .attr('font-size', size).attr('fill', '#111').text(s));
}
noteBox(132.5, 2060.6, ["sp'60min cycle"], 21, 4, 25, 156, 31);
noteBox(160.5, 2043.2, ['A sustained break under', '2050 looks unlikely for', 'some considerable time.'], 16.4, 3, 20.8, 191, 68);
noteBox(66.5, 1986.6, ['spike floor @ 1980'], 14.4, 3, 17, 133, 24);

// ---- header ----
const hd = svg.append('g').attr('fill', '#111');
hd.append('text').attr('x', 16).attr('y', 15).attr('font-size', 13.5).attr('font-weight', 'bold').text('$SPX');
hd.append('text').attr('x', 54).attr('y', 14).attr('font-size', 10.6).text('S&P 500 Large Cap Index');
hd.append('text').attr('x', 182).attr('y', 14).attr('font-size', 9.4).text('INDX');
hd.append('text').attr('x', 16).attr('y', 26.5).attr('font-size', 10.6).text('20-Feb-2015 2:54pm');
hd.append('text').attr('x', 1206).attr('y', 14).attr('text-anchor', 'end').attr('font-size', 12.5)
  .attr('fill', '#555').text('\u00A9StockCharts.com');
const ohlc = [['Open', 1], [' 2097.65  ', 0], ['High', 1], [' 2107.14  ', 0], ['Low', 1], [' 2085.44  ', 0],
  ['Last', 1], [' 2106.54  ', 0], ['Chg', 1], [' +9.09 (+0.43%)', 0]];
const ot = hd.append('text').attr('x', 1197).attr('y', 27).attr('text-anchor', 'end')
  .attr('font-size', 11.2).style('white-space', 'pre');
ohlc.forEach(([s, b]) => ot.append('tspan').attr('font-weight', b ? 'bold' : null).text(s));
hd.append('path').attr('d', 'M1200,26 L1203.5,21 L1207,26 Z').attr('fill', '#5a9a5a');
</script>
</body>
</html>
